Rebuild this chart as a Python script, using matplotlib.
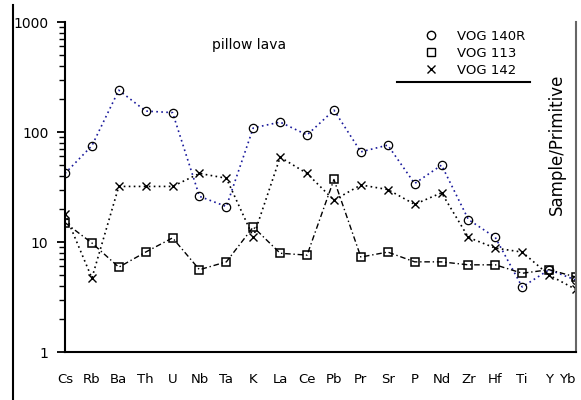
import numpy as np
import matplotlib
matplotlib.use("Agg")
import matplotlib.pyplot as plt
from matplotlib.lines import Line2D
from matplotlib.ticker import FixedLocator, FixedFormatter, LogLocator, NullFormatter

elements = ["Cs", "Rb", "Ba", "Th", "U", "Nb", "Ta", "K", "La", "Ce",
            "Pb", "Pr", "Sr", "P", "Nd", "Zr", "Hf", "Ti", "Y", "Yb"]
vog_140r = [42, 75, 240, 155, 150, 26, 21, 109, 123, 94,
            158, 66, 76, 34, 50, 16, 11, 3.9, 5.6, 4.5]
vog_113 = [15, 9.8, 5.9, 8.1, 10.9, 5.6, 6.6, 13.7, 7.9, 7.6,
           37, 7.3, 8.1, 6.6, 6.6, 6.2, 6.2, 5.2, 5.6, 4.8]
vog_142 = [18, 4.7, 32, 32, 32, 42, 38, 11.1, 59, 42,
           24, 33, 30, 22, 28, 11, 8.8, 8.1, 5.0, 3.7]
# elements that carry a tick mark on the x axis
tick_elements = ["Cs", "Ba", "U", "Nb", "Ta", "K", "Ce", "P", "Zr", "Hf", "Ti", "Yb"]

x = np.arange(len(elements))

fig = plt.figure(figsize=(5.81, 4.0), dpi=100)
ax = fig.add_axes([65 / 581, 1 - 352 / 400, 511 / 581, 330 / 400])

blue = "#1a1a9c"
ax.plot(x, vog_140r, linestyle=(0, (1, 2)), color=blue, lw=1.2,
        marker="o", markersize=6, markerfacecolor="none", markeredgecolor="k", markeredgewidth=0.9)
ax.plot(x, vog_113, linestyle=(0, (4, 2, 1, 2)), color="k", lw=1.0,
        marker="s", markersize=6, markerfacecolor="none", markeredgecolor="k", markeredgewidth=1.1)
ax.plot(x, vog_142, linestyle=(0, (1, 2)), color="k", lw=1.2,
        marker="x", markersize=6, markeredgecolor="k", markeredgewidth=1.0)

ax.set_yscale("log")
ax.set_ylim(1, 1000)
ax.set_xlim(0, len(elements) - 1)

ax.yaxis.set_major_locator(FixedLocator([1, 10, 100, 1000]))
ax.yaxis.set_major_formatter(FixedFormatter(["1", "10", "100", "1000"]))
ax.yaxis.set_minor_locator(LogLocator(base=10, subs=np.arange(2, 10)))
ax.yaxis.set_minor_formatter(NullFormatter())
ax.tick_params(axis="y", which="major", direction="out", length=6, width=1.3, labelsize=10, pad=6)
ax.tick_params(axis="y", which="minor", direction="out", length=4, width=1.0)

ax.set_xticks(x)
ax.set_xticklabels(elements)
ax.set_xticks([elements.index(e) for e in tick_elements], minor=True)
ax.tick_params(axis="x", which="major", length=0, labelsize=9.5, pad=15)
ax.tick_params(axis="x", which="minor", direction="out", length=6, width=1.3)
# last label sits at the figure edge, keep it inside
ax.get_xticklabels()[-1].set_horizontalalignment("right")

ax.spines["top"].set_visible(False)
ax.spines["left"].set_linewidth(1.5)
ax.spines["bottom"].set_linewidth(1.5)
ax.spines["right"].set_linewidth(1.5)
ax.spines["right"].set_color("#666666")

ax.text(0.36, 0.93, "pillow lava", transform=ax.transAxes, fontsize=10, ha="center", va="center")
ax.text(0.963, 0.63, "Sample/Primitive", transform=ax.transAxes, fontsize=12,
        rotation=90, ha="center", va="center")

handles = [
    Line2D([], [], linestyle="none", marker="o", markersize=6, markerfacecolor="none", markeredgecolor="k"),
    Line2D([], [], linestyle="none", marker="s", markersize=6, markerfacecolor="none", markeredgecolor="k"),
    Line2D([], [], linestyle="none", marker="x", markersize=6, markeredgecolor="k"),
]
ax.legend(handles, ["VOG 140R", "VOG 113", "VOG 142"], loc="upper left",
          bbox_to_anchor=(0.685, 1.005), frameon=False, fontsize=9.5,
          handlelength=1.0, handletextpad=1.5, labelspacing=0.3, borderpad=0.2)
ax.plot([0.65, 0.91], [0.818, 0.818], transform=ax.transAxes, color="k", lw=1.5, clip_on=False)

# outer frame line on the left of the chart
fig.add_artist(Line2D([13 / 581, 13 / 581], [0, 1 - 5 / 400], color="k", lw=1.5))

fig.savefig("out.png", dpi=100)
